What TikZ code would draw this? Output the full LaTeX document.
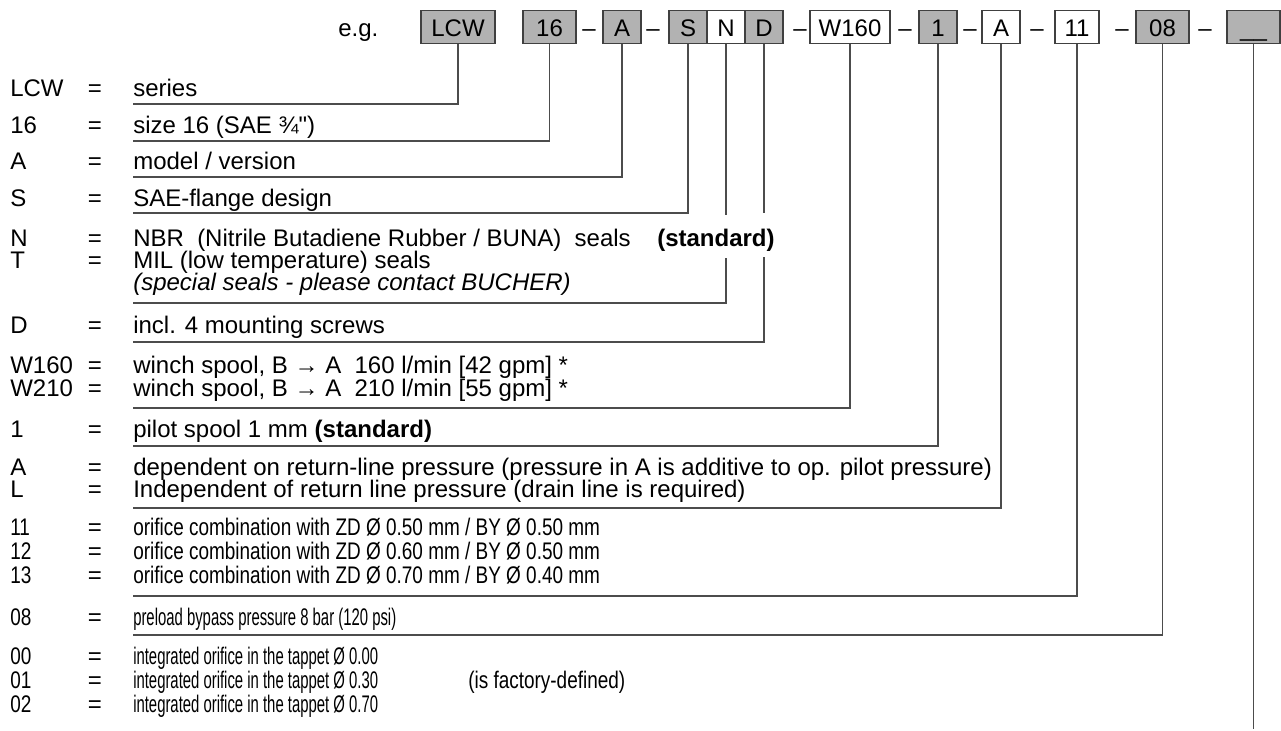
\documentclass[tikz,border=0pt]{standalone}
\usepackage{fontspec}
\setmainfont{Liberation Sans}
\newfontfamily\qfont{Liberation Sans}[Ligatures=TeXOff]
\newfontfamily\narrowA[FakeStretch=0.79]{Liberation Sans}
\newfontfamily\narrowB[FakeStretch=0.62]{Liberation Sans}
\begin{document}
\begin{tikzpicture}[x=0.75pt,y=-0.75pt,font=\fontsize{18}{21}\selectfont,
  box/.style={draw=black!75,line width=0.8pt,minimum height=24.75pt,inner sep=0pt,text height=15pt,text depth=0pt},
  gbox/.style={box,fill=black!30},
  wbox/.style={box,fill=white},
  key/.style={anchor=base west,inner sep=0pt},
  eq/.style={anchor=base,inner sep=0pt},
  desc/.style={anchor=base west,inner sep=0pt},
  adesc/.style={anchor=base west,inner sep=0pt,font=\fontsize{18}{21}\narrowA},
  bdesc/.style={anchor=base west,inner sep=0pt,font=\fontsize{18}{21}\narrowB},
  dsh/.style={anchor=base,inner sep=0pt},
  conn/.style={draw=black!70,line width=0.9pt}]
\useasboundingbox (0,0) rectangle (1281,731);

% header
\node[desc] (eg) at (338,37) {e.g.};
\node[gbox,minimum width=55.5pt] (bLCW) at (458,26.75) {LCW};
\node[gbox,minimum width=39.75pt] (b16) at (549.5,26.75) {16};
\node[dsh] (d1) at (589,37) {–};
\node[gbox,minimum width=28.5pt] (bA) at (622,26.75) {A};
\node[dsh] (d2) at (653,37) {–};
\node[gbox,minimum width=28.5pt] (bS) at (688,26.75) {S};
\node[wbox,minimum width=28.5pt] (bN) at (726,26.75) {N};
\node[gbox,minimum width=28.5pt] (bD) at (764,26.75) {D};
\node[dsh] (d3) at (800,37) {–};
\node[wbox,minimum width=60pt] (bW) at (850,26.75) {W160};
\node[dsh] (d4) at (905,37) {–};
\node[gbox,minimum width=28.5pt] (b1) at (938,26.75) {1};
\node[dsh] (d5) at (970,37) {–};
\node[wbox,minimum width=28.5pt] (bA2) at (1001,26.75) {A};
\node[dsh] (d6) at (1037,37) {–};
\node[wbox,minimum width=33pt] (b11) at (1077,26.75) {11};
\node[dsh] (d7) at (1122,37) {–};
\node[gbox,minimum width=39.75pt] (b08) at (1162.5,26.75) {08};
\node[dsh] (d8) at (1205,37) {–};
\node[gbox,minimum width=39.75pt] (bX) at (1253.5,26.75) {\_\_};

% rows
\node[key] (kLCW) at (10,97) {LCW}; \node[eq] (eLCW) at (95,97) {=}; \node[desc] (tLCW) at (133,97) {series};
\node[key] (k16) at (10,134) {16}; \node[eq] (e16) at (95,134) {=}; \node[desc] (t16) at (133,134) {size 16 (SAE ¾{\qfont"})};
\node[key] (kA) at (10,170) {A}; \node[eq] (eA) at (95,170) {=}; \node[desc] (tA) at (133,170) {model / version};
\node[key] (kS) at (10,206) {S}; \node[eq] (eS) at (95,206) {=}; \node[desc] (tS) at (133,206) {SAE-flange design};
\node[key] (kN) at (10,246) {N}; \node[eq] (eN) at (95,246) {=}; \node[desc] (tN) at (133,246) {NBR\ \ (Nitrile Butadiene Rubber / BUNA)\ \ seals};
\node[desc] (tNs) at (657,246) {\textbf{(standard)}};
\node[key] (kT) at (10,268) {T}; \node[eq] (eT) at (95,268) {=}; \node[desc] (tT) at (133,268) {MIL (low temperature) seals};
\node[desc] (tT2) at (133,290) {\textit{(special seals - please contact BUCHER)}};
\node[key] (kD) at (10,333) {D}; \node[eq] (eD) at (95,333) {=}; \node[desc] (tD) at (133,333) {incl. 4 mounting screws};
\node[key] (kW1) at (10,373) {W160}; \node[eq] (eW1) at (95,373) {=}; \node[desc] (tW1) at (133,373) {winch spool, B → A\ \ 160 l/min [42 gpm] *};
\node[key] (kW2) at (10,396) {W210}; \node[eq] (eW2) at (95,396) {=}; \node[desc] (tW2) at (133,396) {winch spool, B → A\ \ 210 l/min [55 gpm] *};
\node[key] (k1) at (10,437) {1}; \node[eq] (e1) at (95,437) {=}; \node[desc] (t1) at (133,437) {pilot spool 1 mm \textbf{(standard)}};
\node[key] (kA2) at (10,475) {A}; \node[eq] (eA2) at (95,475) {=}; \node[desc] (tA2) at (133,475) {dependent on return-line pressure (pressure in A is additive to op. pilot pressure)};
\node[key] (kL) at (10,497) {L}; \node[eq] (eL) at (95,497) {=}; \node[desc] (tL) at (133,497) {Independent of return line pressure (drain line is required)};
\node[adesc] (k11) at (10,535) {11}; \node[eq] (e11) at (95,535) {=}; \node[adesc] (t11) at (133,535) {orifice combination with ZD Ø 0.50 mm / BY Ø 0.50 mm};
\node[adesc] (k12) at (10,559) {12}; \node[eq] (e12) at (95,559) {=}; \node[adesc] (t12) at (133,559) {orifice combination with ZD Ø 0.60 mm / BY Ø 0.50 mm};
\node[adesc] (k13) at (10,583) {13}; \node[eq] (e13) at (95,583) {=}; \node[adesc] (t13) at (133,583) {orifice combination with ZD Ø 0.70 mm / BY Ø 0.40 mm};
\node[adesc] (k08) at (10,625) {08}; \node[eq] (e08) at (95,625) {=}; \node[bdesc] (t08) at (133,625) {preload bypass pressure 8 bar (120 psi)};
\node[adesc] (k00) at (10,664) {00}; \node[eq] (e00) at (95,664) {=}; \node[bdesc] (t00) at (133,664) {integrated orifice in the tappet Ø 0.00};
\node[adesc] (k01) at (10,688) {01}; \node[eq] (e01) at (95,688) {=}; \node[bdesc] (t01) at (133,688) {integrated orifice in the tappet Ø 0.30};
\node[adesc] (t01b) at (468,688) {(is factory-defined)};
\node[adesc] (k02) at (10,712) {02}; \node[eq] (e02) at (95,712) {=}; \node[bdesc] (t02) at (133,712) {integrated orifice in the tappet Ø 0.70};

% underline end points
\coordinate (u1) at (133,104);
\coordinate (u2) at (133,141);
\coordinate (u3) at (133,177);
\coordinate (u4) at (133,213);
\coordinate (u5) at (133,303);
\coordinate (u6) at (133,342);
\coordinate (u7) at (133,408);
\coordinate (u8) at (133,446);
\coordinate (u9) at (133,508);
\coordinate (u10) at (133,596);
\coordinate (u11) at (133,635);
\coordinate (uend) at (0,729);
\coordinate (gNa) at (0,215);
\coordinate (gNb) at (0,258);
\coordinate (gDa) at (0,213);
\coordinate (gDb) at (0,257);

% connectors
\draw[conn] (bLCW.south) |- (u1);
\draw[conn] (b16.south) |- (u2);
\draw[conn] (bA.south) |- (u3);
\draw[conn] (bS.south) |- (u4);
\draw[conn] (bN.south) -- (bN.south |- gNa);
\draw[conn] (bN.south |- gNb) |- (u5);
\draw[conn] (bD.south) -- (bD.south |- gDa);
\draw[conn] (bD.south |- gDb) |- (u6);
\draw[conn] (bW.south) |- (u7);
\draw[conn] (b1.south) |- (u8);
\draw[conn] (bA2.south) |- (u9);
\draw[conn] (b11.south) |- (u10);
\draw[conn] (b08.south) |- (u11);
\draw[conn] (bX.south) -- (bX.south |- uend);
\end{tikzpicture}
\end{document}
